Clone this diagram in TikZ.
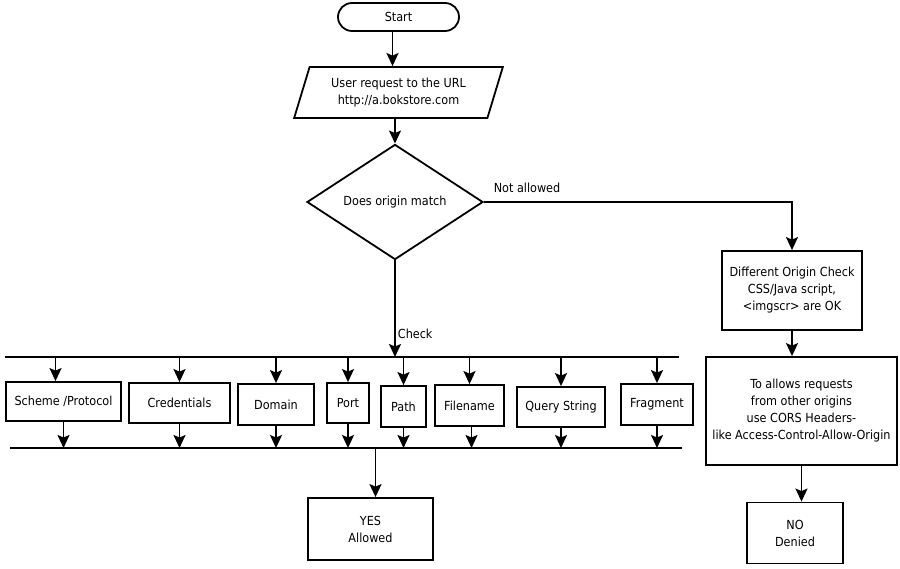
\documentclass[tikz,border=0pt]{standalone}
\usepackage{fontspec}
\setmainfont{DejaVu Sans Condensed}
\usetikzlibrary{shapes.geometric,arrows.meta}

\tikzset{
  box/.style={draw, line width=1.8pt, inner sep=2pt, align=center},
  startbox/.style={box, rounded corners=14pt},
  iobox/.style={box, trapezium, trapezium left angle=70, trapezium right angle=110, trapezium stretches=true},
  decision/.style={box, diamond, inner sep=0pt},
  pfeil/.style={->, line width=1.8pt},
  bus/.style={line width=2pt},
  lbl/.style={inner sep=2pt}
}

\begin{document}
\begin{tikzpicture}[x=1pt,y=-1pt,>={Stealth[length=13pt,width=12pt,inset=2.5pt]},font=\fontsize{12.5}{17}\selectfont]
\useasboundingbox (0,0) rectangle (900,569);

% Start und Anfrage
\node[startbox, minimum width=121pt, minimum height=28pt] (start) at (398.5,17) {Start};
\node[iobox, minimum width=209pt, minimum height=51pt] (req) at (398.5,92.5) {User request to the URL\\http://a.bokstore.com};

% Entscheidung
\node[decision, minimum width=176pt, minimum height=94pt] (dia) at (395,202) {Does origin match};

% rechter Zweig
\node[box, minimum width=140pt, minimum height=79pt] (diff) at (792,290.5) {Different Origin Check\\CSS/Java script,\\<imgscr> are OK};
\node[box, minimum width=191pt, minimum height=108pt] (cors) at (801.5,411) {To allows requests\\from other origins\\use CORS Headers-\\like Access-Control-Allow-Origin};
\node[box, minimum width=96pt, minimum height=61pt] (no) at (795,533) {NO\\Denied};

% Sammelschienen oben und unten
\coordinate (busTL) at (5,357);
\coordinate (busTR) at (679,357);
\coordinate (busBL) at (10,448);
\coordinate (busBR) at (682,448);
\draw[bus] (busTL) -- (busTR);
\draw[bus] (busBL) -- (busBR);

% Bestandteile der URL
\node[box, minimum width=115pt, minimum height=39pt] (scheme) at (63.5,401.5) {Scheme /Protocol};
\node[box, minimum width=101pt, minimum height=40pt] (cred) at (179.5,403) {Credentials};
\node[box, minimum width=76pt, minimum height=41pt] (domain) at (276,404.5) {Domain};
\node[box, minimum width=42pt, minimum height=40pt] (port) at (348,403) {Port};
\node[box, minimum width=45pt, minimum height=41pt] (path) at (403.5,406.5) {Path};
\node[box, minimum width=69pt, minimum height=41pt] (file) at (469.5,405.5) {Filename};
\node[box, minimum width=88pt, minimum height=40pt] (query) at (561,407) {Query String};
\node[box, minimum width=72pt, minimum height=41pt] (frag) at (657,404.5) {Fragment};

% Ergebnis unten
\node[box, minimum width=125pt, minimum height=62pt] (yes) at (370.5,529) {YES\\Allowed};

% Pfeile oben
\draw[pfeil] ([xshift=-6pt]start.south) -- ([xshift=-6pt]start.south |- req.north);
\draw[pfeil] (dia.north |- req.south) -- (dia.north);
\draw[pfeil] (dia.south) -- node[lbl, pos=0.76, right] {Check} (dia.south |- busTL);
\draw[pfeil] (dia.east) -| node[lbl, pos=0.07, above=6pt] {Not allowed} (diff.north);
\draw[pfeil] (diff.south) -- (diff.south |- cors.north);
\draw[pfeil] (cors.south) -- (cors.south |- no.north);

% Pfeile in die Bestandteile
\draw[pfeil] ([xshift=-8pt]scheme.north |- busTL) -- ([xshift=-8pt]scheme.north);
\draw[pfeil] (cred.north |- busTL) -- (cred.north);
\draw[pfeil] (domain.north |- busTL) -- (domain.north);
\draw[pfeil] (port.north |- busTL) -- (port.north);
\draw[pfeil] (path.north |- busTL) -- (path.north);
\draw[pfeil] (file.north |- busTL) -- (file.north);
\draw[pfeil] (query.north |- busTL) -- (query.north);
\draw[pfeil] (frag.north |- busTL) -- (frag.north);

% Pfeile aus den Bestandteilen
\draw[pfeil] (scheme.south) -- (scheme.south |- busBL);
\draw[pfeil] (cred.south) -- (cred.south |- busBL);
\draw[pfeil] (domain.south) -- (domain.south |- busBL);
\draw[pfeil] (port.south) -- (port.south |- busBL);
\draw[pfeil] (path.south) -- (path.south |- busBL);
\draw[pfeil] ([xshift=2pt]file.south) -- ([xshift=2pt]file.south |- busBL);
\draw[pfeil] (query.south) -- (query.south |- busBL);
\draw[pfeil] (frag.south) -- (frag.south |- busBL);

% zum Ergebnis
\draw[pfeil] ([xshift=5pt]yes.north |- busBL) -- ([xshift=5pt]yes.north);

\end{tikzpicture}
\end{document}
